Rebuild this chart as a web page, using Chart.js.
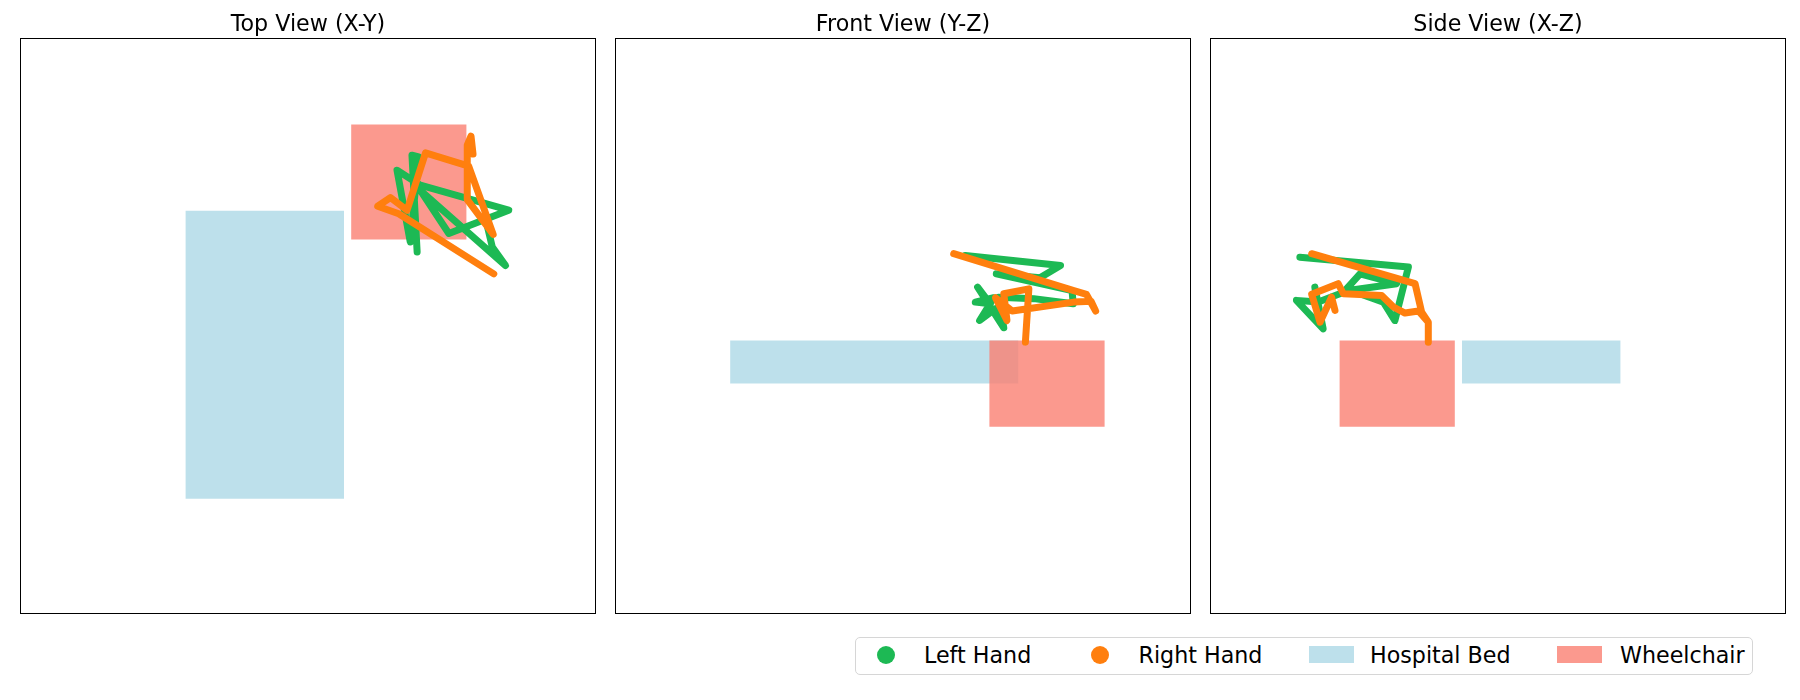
<!DOCTYPE html>
<html><head><meta charset="utf-8">
<script src="https://cdn.jsdelivr.net/npm/chart.js@4.4.1/dist/chart.umd.min.js"></script>
<style>
body{margin:0;background:#fff;width:1800px;height:700px;position:relative;overflow:hidden;font-family:"DejaVu Sans",sans-serif;}
canvas.v{position:absolute;top:0;}
#legend{position:absolute;left:855px;top:637px;width:898px;height:38px;border:1px solid #d6d6d6;border-radius:5px;box-sizing:border-box;}
.dot{position:absolute;width:18px;height:18px;border-radius:50%;}
.patch{position:absolute;width:45px;height:17px;}
.lt{position:absolute;font-size:22.2px;line-height:22.2px;color:#000;white-space:nowrap;}
</style></head><body>
<canvas class="v" id="c0" width="576" height="614" style="left:20px"></canvas>
<canvas class="v" id="c1" width="576" height="614" style="left:615px"></canvas>
<canvas class="v" id="c2" width="576" height="614" style="left:1210px"></canvas>
<div id="legend"></div>
<div class="dot" style="left:877px;top:646px;background:#1db954"></div>
<div class="lt" style="left:924px;top:643.5px">Left Hand</div>
<div class="dot" style="left:1091px;top:646px;background:#ff7f0e"></div>
<div class="lt" style="left:1138.5px;top:643.5px">Right Hand</div>
<div class="patch" style="left:1309px;top:646px;background:rgba(173,216,230,0.8)"></div>
<div class="lt" style="left:1370px;top:643.5px">Hospital Bed</div>
<div class="patch" style="left:1557px;top:646px;background:rgba(250,128,114,0.8)"></div>
<div class="lt" style="left:1620px;top:643.5px">Wheelchair</div>
<script>
// Objects (metres, shared across views)
const bedX = [-0.425, 0.125];
const bedY = [-0.6, 0.4];
const bedZ = [-0.2, -0.05];
const chairX = [0.15, 0.55];
const chairY = [0.3, 0.7];
const chairZ = [-0.35, -0.05];

// Top view (X-Y)
const leftTopX  = [0.379, 0.361, 0.384, 0.355, 0.309, 0.390, 0.697, 0.489, 0.390, 0.686, 0.640, 0.622];
const leftTopY  = [0.257, 0.593, 0.587, 0.292, 0.541, 0.489, 0.402, 0.321, 0.471, 0.210, 0.274, 0.350];
const rightTopX = [0.645, 0.315, 0.242, 0.286, 0.344, 0.408, 0.558, 0.643, 0.553, 0.553, 0.566, 0.573];
const rightTopY = [0.181, 0.390, 0.416, 0.446, 0.402, 0.601, 0.555, 0.318, 0.439, 0.628, 0.659, 0.597];

// Front view (Y-Z)
const leftFrontY  = [0.216, 0.547, 0.477, 0.324, 0.587, 0.591, 0.454, 0.332, 0.350, 0.259, 0.303, 0.251, 0.315, 0.266, 0.321];
const leftFrontZ  = [0.245, 0.210, 0.168, 0.181, 0.123, 0.077, 0.095, 0.100, -0.006, 0.135, 0.077, 0.083, 0.098, 0.019, 0.060];
const rightFrontY = [0.176, 0.593, 0.637, 0.669, 0.653, 0.593, 0.379, 0.321, 0.361, 0.350, 0.437, 0.425];
const rightFrontZ = [0.251, 0.123, 0.110, 0.052, 0.086, 0.083, 0.052, 0.098, 0.019, 0.112, 0.129, -0.056];

// Side view (X-Z)
const leftSideX  = [0.688, 0.311, 0.358, 0.398, 0.526, 0.479, 0.352, 0.520, 0.624, 0.700, 0.607, 0.636, 0.618];
const leftSideZ  = [0.239, 0.205, 0.019, 0.083, 0.129, 0.181, 0.147, 0.123, 0.083, 0.089, -0.010, 0.135, 0.019];
const rightSideX = [0.647, 0.288, 0.265, 0.242, 0.242, 0.242, 0.276, 0.323, 0.363, 0.404, 0.537, 0.555, 0.647, 0.618, 0.578, 0.566];
const rightSideZ = [0.251, 0.147, 0.048, 0.013, -0.056, 0.013, 0.052, 0.045, 0.066, 0.106, 0.112, 0.147, 0.110, 0.013, 0.100, 0.054];

const titles = ['Top View (X-Y)', 'Front View (Y-Z)', 'Side View (X-Z)'];

function rect(h, v) {
  return [{x:h[0],y:v[0]},{x:h[1],y:v[0]},{x:h[1],y:v[1]},{x:h[0],y:v[1]},{x:h[0],y:v[0]}];
}
function pts(a, b) { return a.map((v, i) => ({x: v, y: b[i]})); }

const views = [
  {bed: rect(bedX, bedY), chair: rect(chairX, chairY), left: pts(leftTopX, leftTopY), right: pts(rightTopX, rightTopY), rev: false},
  {bed: rect(bedY, bedZ), chair: rect(chairY, chairZ), left: pts(leftFrontY, leftFrontZ), right: pts(rightFrontY, rightFrontZ), rev: false},
  {bed: rect(bedX, bedZ), chair: rect(chairX, chairZ), left: pts(leftSideX, leftSideZ), right: pts(rightSideX, rightSideZ), rev: true}
];

const frame = {
  id: 'frame',
  afterDraw(chart) {
    const a = chart.chartArea, ctx = chart.ctx;
    ctx.save();
    ctx.strokeStyle = '#000';
    ctx.lineWidth = 1;
    ctx.strokeRect(a.left + 0.5, a.top + 0.5, a.right - a.left - 1, a.bottom - a.top - 1);
    ctx.restore();
  }
};

function lineDs(label, data, color) {
  return {label, data, showLine: true, borderColor: color, backgroundColor: color, borderWidth: 7,
    borderCapStyle: 'round', borderJoinStyle: 'round', pointRadius: 0, fill: false, tension: 0};
}
function shapeDs(label, data, color) {
  return {label, data, showLine: true, fill: 'shape', backgroundColor: color,
    borderColor: 'rgba(0,0,0,0)', borderWidth: 0, pointRadius: 0, tension: 0};
}

views.forEach((v, i) => {
  new Chart(document.getElementById('c' + i), {
    type: 'scatter',
    data: {datasets: [
      lineDs('Right Hand', v.right, '#ff7f0e'),
      lineDs('Left Hand', v.left, '#1db954'),
      shapeDs('Wheelchair', v.chair, 'rgba(250,128,114,0.8)'),
      shapeDs('Hospital Bed', v.bed, 'rgba(173,216,230,0.8)')
    ]},
    options: {
      responsive: false, animation: false, devicePixelRatio: 1,
      layout: {padding: 0},
      plugins: {
        legend: {display: false}, tooltip: {enabled: false},
        title: {display: true, text: titles[i], color: '#000',
          font: {family: 'DejaVu Sans', size: 22.2, weight: 'normal', lineHeight: '25px'},
          padding: {top: 12.5, bottom: 0.5}}
      },
      scales: {
        x: {type: 'linear', min: -1, max: 1, display: false, reverse: v.rev},
        y: {type: 'linear', min: -1, max: 1, display: false}
      }
    },
    plugins: [frame]
  });
});
</script>
</body></html>
